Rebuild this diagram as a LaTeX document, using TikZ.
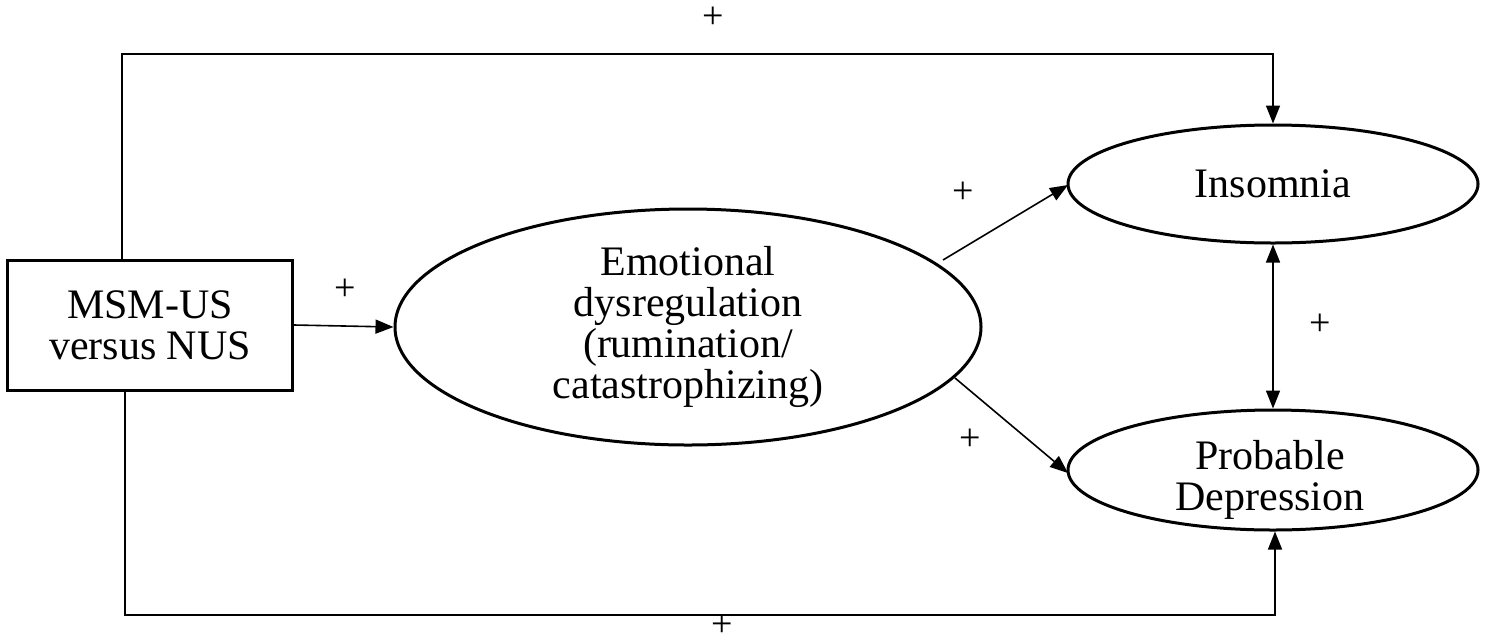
\documentclass[tikz,border=0pt]{standalone}
\usepackage{fontspec}
\setmainfont{Liberation Serif}
\usetikzlibrary{arrows.meta,shapes.geometric,positioning}
\tikzset{
  construct/.style={draw,ellipse,line width=3pt,inner sep=0pt,align=center,font=\fontsize{42}{41}\selectfont},
  group/.style={draw,rectangle,line width=3pt,inner sep=0pt,align=center,font=\fontsize{42}{41}\selectfont},
  path/.style={line width=1.6pt,-{Triangle[length=18pt,width=14pt]}},
  sign/.style={inner sep=0pt,font=\fontsize{38}{38}\selectfont}
}
\begin{document}
\begin{tikzpicture}[x=1pt,y=-1pt]
\useasboundingbox (0,0) rectangle (1488,641);
\node[group,minimum width=285pt,minimum height=130pt] (msm) at (150,325) {MSM-US\\versus NUS};
\node[construct,minimum width=586pt,minimum height=236pt] (emo) at (688,327) {Emotional\\dysregulation\\(rumination/\\catastrophizing)};
\node[construct,minimum width=410pt,minimum height=118pt] (ins) at (1273,184) {Insomnia};
\node[construct,minimum width=410pt,minimum height=120pt] (dep) at (1273,470) {};
\node[font=\fontsize{42}{41}\selectfont,align=center] (deptext) at (1270,480) {Probable\\Depression};
\coordinate (topl) at (122,54);
\coordinate (topr) at (1273,54);
\coordinate (botl) at (125,615);
\coordinate (botr) at (1275,615);
\coordinate (emoup) at (943,260);
\coordinate (emodn) at (955,378);
\coordinate (insin) at (1068,185);
\coordinate (depin) at (1068,473);
\draw[path] (msm.north -| topl) -- (topl) -- (topr) -- (ins.north);
\draw[path] (msm.south -| botl) -- (botl) -- (botr) -- (dep.south -| botr);
\draw[path] (msm.east) -- (emo.west);
\draw[path] (emoup) -- (insin);
\draw[path] (emodn) -- (depin);
\draw[path,{Triangle[length=18pt,width=14pt]}-{Triangle[length=18pt,width=14pt]}] (ins.south) -- (dep.north);
\node[sign] (p1) at (713,18) {+};
\node[sign] (p2) at (722,626) {+};
\node[sign] (p3) at (345,290) {+};
\node[sign] (p4) at (963,193) {+};
\node[sign] (p5) at (970,440) {+};
\node[sign] (p6) at (1320,325) {+};
\end{tikzpicture}
\end{document}
